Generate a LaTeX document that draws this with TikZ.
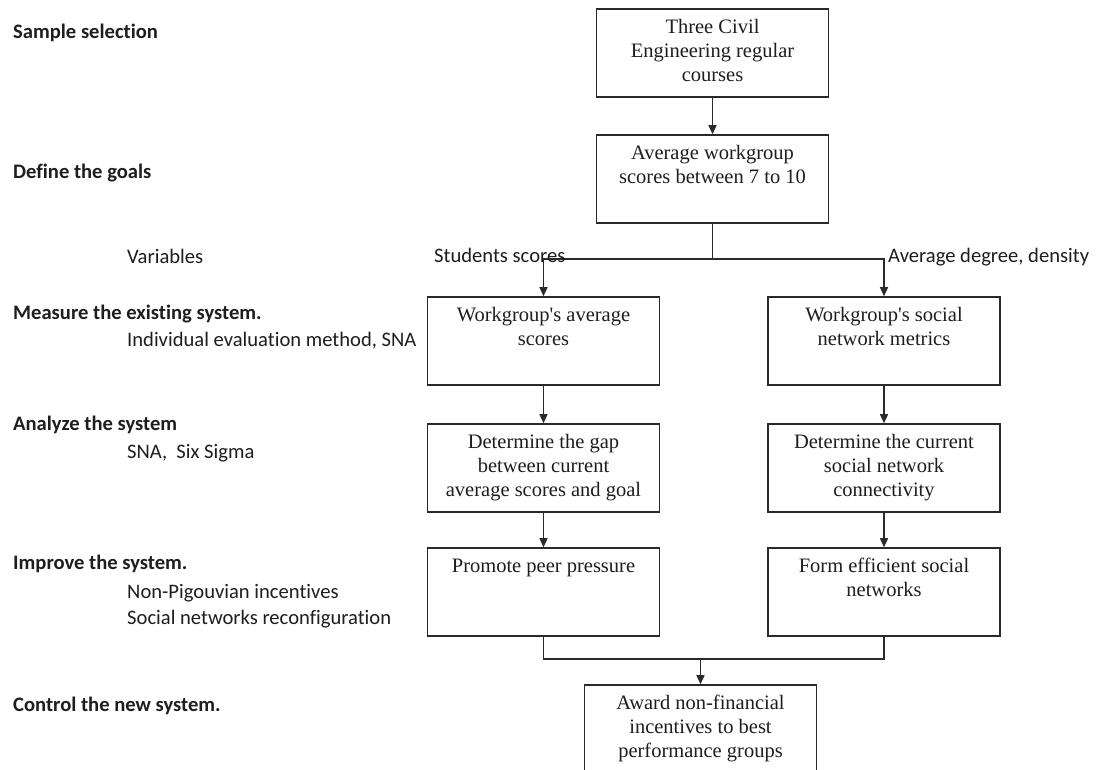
\documentclass[tikz,border=0pt]{standalone}
\usepackage{fontspec}
\setmainfont{Liberation Serif}
\newfontfamily\labelfont[Ligatures=NoCommon]{Carlito}
\usetikzlibrary{arrows.meta}

\definecolor{ink}{HTML}{1E1E1E}
\definecolor{frame}{HTML}{2A2A2A}

% text of a process box: set from the top edge, centred
\newcommand\boxcontent[1]{\parbox[c][80pt][t]{224pt}{\centering\fontsize{20.5}{24}\selectfont\vspace*{4pt}\strut#1\par}}
\newcommand\apos{\textquotesingle}

\begin{document}
\begin{tikzpicture}[x=1pt,y=-1pt,
  box/.style={draw=frame, line width=1.6pt, inner sep=4pt,
              minimum width=229pt, minimum height=88pt, text=ink},
  link/.style={draw=frame, line width=1.3pt},
  arr/.style={link, -{Triangle[length=9pt,width=8pt]}},
  phase/.style={anchor=base west, inner sep=0, text=ink,
                font=\labelfont\bfseries\fontsize{20.6}{24}\selectfont},
  tool/.style={anchor=base west, inner sep=0, text=ink,
               font=\labelfont\fontsize{20.6}{24}\selectfont}]

\useasboundingbox (0,0) rectangle (1103,769);
\clip (0,0) rectangle (1103,769);
\fill[white] (0,0) rectangle (1103,769);

% process boxes
\node[box] (sample) at (712.5,53)  {\boxcontent{Three Civil\\Engineering regular\\courses}};
\node[box] (goal)   at (712.5,179) {\boxcontent{Average workgroup\\scores between 7 to 10}};
\node[box] (L1) at (543.5,341) {\boxcontent{Workgroup\apos s average\\scores}};
\node[box] (R1) at (884,341)   {\boxcontent{Workgroup\apos s social\\network metrics}};
\node[box] (L2) at (543.5,468) {\boxcontent{Determine the gap\\between current\\average scores and goal}};
\node[box] (R2) at (884,468)   {\boxcontent{Determine the current\\social network\\connectivity}};
\node[box] (L3) at (543.5,592) {\boxcontent{Promote peer pressure}};
\node[box] (R3) at (884,592)   {\boxcontent{Form efficient social\\networks}};
\node[box] (award) at (700.5,729) {\boxcontent{Award non-financial\\incentives to best\\performance groups}};

% connectors
\coordinate (split) at (712.5,259);
\coordinate (merge) at (700.5,659);
\draw[arr] (sample) -- (goal);
\draw[link] (goal.south) -- (split);
\draw[arr] (split) -| (L1.north);
\draw[arr] (split) -| (R1.north);
\draw[arr] (L1) -- (L2);
\draw[arr] (L2) -- (L3);
\draw[arr] (R1) -- (R2);
\draw[arr] (R2) -- (R3);
\draw[link] (L3.south) -- (L3.south |- merge) -- (R3.south |- merge) -- (R3.south);
\draw[arr] (merge) -- (award);

% variable labels on the split
\node[tool] (vs) at (434,262) {Students scores};
\node[tool] (vd) at (888,262) {Average degree, density};

% phases and their methods
\node[phase] (p1) at (13,38)  {Sample selection};
\node[phase] (p2) at (13,178) {Define the goals};
\node[tool]  (t0) at (127,263) {Variables};
\node[phase] (p3) at (13,319) {Measure the existing system.};
\node[tool]  (t1) at (127,346) {Individual evaluation method, SNA};
\node[phase] (p4) at (13,430) {Analyze the system};
\node[tool]  (t2) at (127,458) {SNA,\ \ Six Sigma};
\node[phase] (p5) at (13,569) {Improve the system.};
\node[tool]  (t3) at (127,598) {Non-Pigouvian incentives};
\node[tool]  (t4) at (127,624) {Social networks reconfiguration};
\node[phase] (p6) at (13,711) {Control the new system.};
\end{tikzpicture}
\end{document}
